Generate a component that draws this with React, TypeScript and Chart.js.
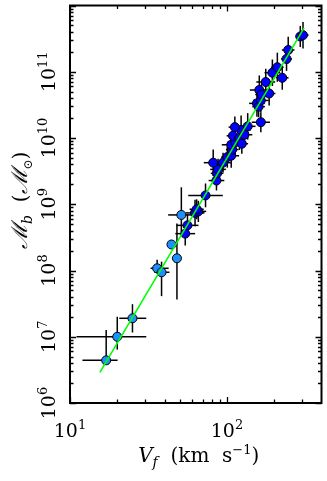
import React, { useEffect, useRef } from "react";
import { Chart, registerables } from "chart.js";
Chart.register(...registerables);

// Axis ranges
const xRange = [10, 400];
const yRange = [1e6, 1e12];
const xMajorTicks = [10, 100];
const xMinorTicks = [20, 30, 40, 50, 60, 70, 80, 90, 200, 300];
const xLabelExps = [1, 2];
const yDecades = [6, 7, 8, 9, 10, 11, 12];
const yLabelExps = [6, 7, 8, 9, 10, 11];

// Gas-rich dwarfs (light blue)
const lightV = [17.0, 20.0, 25.0, 35.9, 38.3, 44.3, 48.0, 51.2];
const lightM = [4.4e6, 1.0e7, 1.9e7, 1.08e8, 9.4e7, 2.47e8, 1.53e8, 6.9e8];
const lightVlo = [12.0, 11.0, 20.6, 32.6, 34.5, 44.3, 48.0, 42.2];
const lightVhi = [20.1, 30.6, 30.6, 42.5, 43.0, 44.3, 48.0, 61.2];
const lightMlo = [3.8e6, 6.4e6, 1.16e7, 9.0e7, 4.1e7, 2.47e8, 3.66e7, 3.8e8];
const lightMhi = [1.26e7, 2.0e7, 3.1e7, 1.45e8, 1.36e8, 2.47e8, 5.1e8, 1.8e9];

// Star-dominated galaxies (dark blue)
const darkV = [54.2, 56.0, 62.6, 65.7, 64.1, 73.0, 85.7, 86.5, 87.7, 81.7, 94.4, 100.5, 106.4, 108, 106.4, 112.8, 109.1, 120, 123, 124.3, 129.2, 135.5, 112.2, 164.3, 155.2, 159, 164.3, 160.6, 166, 176.6, 185.6, 194.6, 209.3, 225, 239.5, 245.5, 293, 305];
const darkM = [3.6e8, 4.8e8, 7.4e8, 7.8e8, 8.4e8, 1.36e9, 2.28e9, 2.93e9, 3.36e9, 4.24e9, 4.24e9, 5.15e9, 5.4e9, 6.7e9, 7.9e9, 8.6e9, 1.08e10, 1.0e10, 1.32e10, 8.2e9, 1.12e10, 1.5e10, 1.46e10, 1.73e10, 3.33e10, 2.97e10, 3.69e10, 5.3e10, 4.54e10, 7.0e10, 4.7e10, 9.66e10, 1.17e11, 8.1e10, 1.56e11, 2.13e11, 3.41e11, 3.57e11];
// half-widths of the error bars, in dex
const darkVerrDex = [0.063, 0.07, 0.06, 0.05, 0.045, 0.11, 0.05, 0.04, 0.05, 0.06, 0.05, 0.04, 0.05, 0.04, 0.06, 0.05, 0.04, 0.05, 0.06, 0.04, 0.05, 0.05, 0.04, 0.058, 0.05, 0.04, 0.05, 0.06, 0.04, 0.06, 0.04, 0.05, 0.04, 0.04, 0.035, 0.04, 0.03, 0.035];
const darkMerrDex = [0.18, 0.17, 0.2, 0.16, 0.15, 0.18, 0.15, 0.18, 0.16, 0.2, 0.15, 0.16, 0.18, 0.15, 0.17, 0.2, 0.16, 0.18, 0.22, 0.15, 0.17, 0.2, 0.16, 0.15, 0.2, 0.16, 0.18, 0.22, 0.17, 0.2, 0.18, 0.2, 0.22, 0.18, 0.18, 0.2, 0.16, 0.2];

// Fit line end points (M = 50 V^4)
const fitV = [15.5, 310];
const fitM = [2.9e6, 4.6e11];

const SERIF = '"DejaVu Serif", "Liberation Serif", serif';

type Piece = { t: string; f: string; dy: number };

function drawPieces(ctx: CanvasRenderingContext2D, pieces: Piece[], cx: number, by: number) {
  let total = 0;
  for (const p of pieces) {
    ctx.font = p.f;
    total += ctx.measureText(p.t).width;
  }
  let x = cx - total / 2;
  ctx.textAlign = "left";
  ctx.textBaseline = "alphabetic";
  for (const p of pieces) {
    ctx.font = p.f;
    ctx.fillText(p.t, x, by + p.dy);
    x += ctx.measureText(p.t).width;
  }
}

function powPieces(exp: number): Piece[] {
  return [
    { t: "10", f: `19px ${SERIF}`, dy: 0 },
    { t: String(exp), f: `13px ${SERIF}`, dy: -8 },
  ];
}

const decorPlugin = {
  id: "decor",
  beforeDatasetsDraw(chart: any) {
    const ctx: CanvasRenderingContext2D = chart.ctx;
    const xs = chart.scales.x;
    const ys = chart.scales.y;
    ctx.save();
    ctx.strokeStyle = "#000";
    ctx.lineWidth = 1.5;
    const seg = (x1: number, y1: number, x2: number, y2: number) => {
      ctx.beginPath();
      ctx.moveTo(x1, y1);
      ctx.lineTo(x2, y2);
      ctx.stroke();
    };
    for (let i = 0; i < lightV.length; i++) {
      const px = xs.getPixelForValue(lightV[i]);
      const py = ys.getPixelForValue(lightM[i]);
      seg(xs.getPixelForValue(lightVlo[i]), py, xs.getPixelForValue(lightVhi[i]), py);
      seg(px, ys.getPixelForValue(lightMlo[i]), px, ys.getPixelForValue(lightMhi[i]));
    }
    for (let i = 0; i < darkV.length; i++) {
      const px = xs.getPixelForValue(darkV[i]);
      const py = ys.getPixelForValue(darkM[i]);
      const fx = Math.pow(10, darkVerrDex[i]);
      const fy = Math.pow(10, darkMerrDex[i]);
      seg(xs.getPixelForValue(darkV[i] / fx), py, xs.getPixelForValue(darkV[i] * fx), py);
      seg(px, ys.getPixelForValue(darkM[i] / fy), px, ys.getPixelForValue(darkM[i] * fy));
    }
    ctx.restore();
  },
  afterDraw(chart: any) {
    const ctx: CanvasRenderingContext2D = chart.ctx;
    const xs = chart.scales.x;
    const ys = chart.scales.y;
    const a = chart.chartArea;
    ctx.save();
    ctx.strokeStyle = "#000";
    ctx.fillStyle = "#000";
    // ticks
    ctx.lineWidth = 1.3;
    const tick = (v: number, len: number, axis: "x" | "y") => {
      ctx.beginPath();
      if (axis === "x") {
        const p = Math.round(xs.getPixelForValue(v)) + 0.5;
        ctx.moveTo(p, a.bottom); ctx.lineTo(p, a.bottom - len);
        ctx.moveTo(p, a.top); ctx.lineTo(p, a.top + len);
      } else {
        const p = Math.round(ys.getPixelForValue(v)) + 0.5;
        ctx.moveTo(a.left, p); ctx.lineTo(a.left + len, p);
        ctx.moveTo(a.right, p); ctx.lineTo(a.right - len, p);
      }
      ctx.stroke();
    };
    xMajorTicks.forEach((v) => tick(v, 6, "x"));
    xMinorTicks.forEach((v) => tick(v, 3.5, "x"));
    yDecades.forEach((d) => {
      tick(Math.pow(10, d), 6, "y");
      if (d < 12) for (let m = 2; m <= 9; m++) tick(m * Math.pow(10, d), 3.5, "y");
    });
    // frame
    ctx.lineWidth = 2;
    ctx.strokeRect(a.left, a.top, a.right - a.left, a.bottom - a.top);
    // x tick labels
    xLabelExps.forEach((e) => {
      drawPieces(ctx, powPieces(e), xs.getPixelForValue(Math.pow(10, e)), a.bottom + 34);
    });
    // y tick labels
    yLabelExps.forEach((e) => {
      ctx.save();
      ctx.translate(a.left - 15, ys.getPixelForValue(Math.pow(10, e)));
      ctx.rotate(-Math.PI / 2);
      drawPieces(ctx, powPieces(e), 0, 0);
      ctx.restore();
    });
    // x title
    drawPieces(
      ctx,
      [
        { t: "V", f: `italic 20px ${SERIF}`, dy: 0 },
        { t: "f", f: `italic 14px ${SERIF}`, dy: 5 },
        { t: "  (km  s", f: `20px ${SERIF}`, dy: 0 },
        { t: "\u22121", f: `13px ${SERIF}`, dy: -8 },
        { t: ")", f: `20px ${SERIF}`, dy: 0 },
      ],
      (a.left + a.right) / 2 + 3,
      a.bottom + 59
    );
    // y title
    ctx.save();
    ctx.translate(27, (a.top + a.bottom) / 2 - 4);
    ctx.rotate(-Math.PI / 2);
    drawPieces(
      ctx,
      [
        { t: "\u2133", f: `italic 22px ${SERIF}`, dy: 0 },
        { t: "b", f: `italic 14px ${SERIF}`, dy: 5 },
        { t: "  (", f: `20px ${SERIF}`, dy: 0 },
        { t: "\u2133", f: `italic 22px ${SERIF}`, dy: 0 },
        { t: "\u2299", f: `12px ${SERIF}`, dy: 5 },
        { t: ")", f: `20px ${SERIF}`, dy: 0 },
      ],
      0,
      0
    );
    ctx.restore();
    ctx.restore();
  },
};

export default function App() {
  const ref = useRef<HTMLCanvasElement | null>(null);
  useEffect(() => {
    if (!ref.current) return;
    const chart = new Chart(ref.current, {
      type: "scatter",
      data: {
        datasets: [
          {
            type: "line",
            data: fitV.map((v, i) => ({ x: v, y: fitM[i] })),
            borderColor: "#00ff00",
            borderWidth: 1.6,
            pointRadius: 0,
            showLine: true,
            fill: false,
          } as any,
          {
            data: darkV.map((v, i) => ({ x: v, y: darkM[i] })),
            backgroundColor: "#0000ff",
            borderColor: "#000",
            borderWidth: 1,
            pointRadius: 4.5,
          },
          {
            data: lightV.map((v, i) => ({ x: v, y: lightM[i] })),
            backgroundColor: "#1e8fff",
            borderColor: "#000",
            borderWidth: 1,
            pointRadius: 4.5,
          },
        ],
      },
      options: {
        animation: false,
        responsive: false,
        layout: { padding: { left: 70, right: 2, top: 1, bottom: 78 } },
        plugins: { legend: { display: false }, tooltip: { enabled: false } },
        scales: {
          x: { type: "logarithmic", min: xRange[0], max: xRange[1], display: false },
          y: { type: "logarithmic", min: yRange[0], max: yRange[1], display: false },
        },
      },
      plugins: [decorPlugin],
    });
    return () => chart.destroy();
  }, []);
  return (
    <div style={{ position: "fixed", left: 0, top: 0, width: 327, height: 481, background: "#fff" }}>
      <canvas ref={ref} width={327} height={481} />
    </div>
  );
}
